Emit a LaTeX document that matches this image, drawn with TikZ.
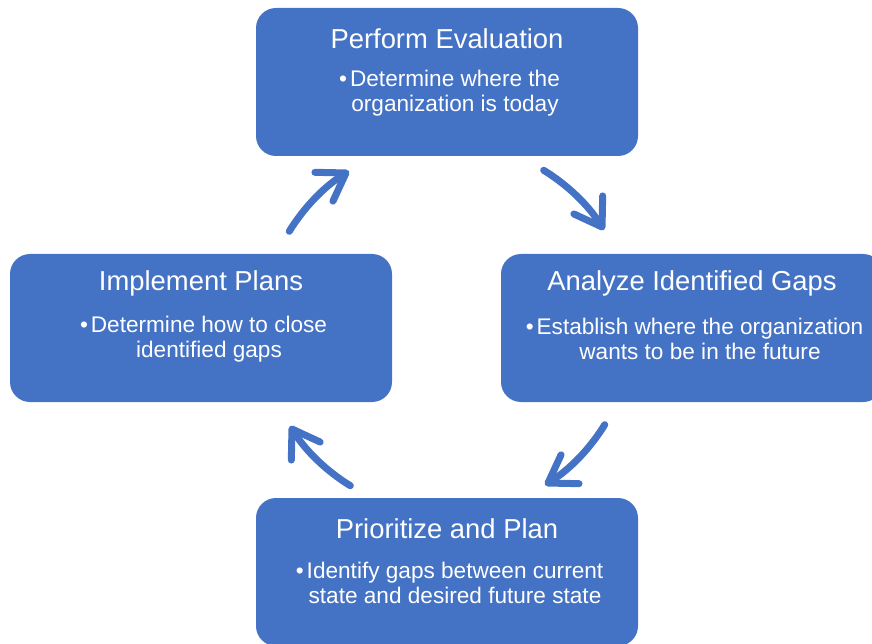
\documentclass[tikz,border=0pt]{standalone}
\usepackage{fontspec}
\setmainfont{Liberation Sans}
\usetikzlibrary{arrows.meta}
\definecolor{cycblue}{HTML}{4472C4}

\begin{document}
\begin{tikzpicture}[x=1pt,y=1pt,>={Straight Barb[round,length=26pt,width=34pt]}, line join=round, line cap=round,
  box/.style={fill=cycblue, rounded corners=20pt, minimum width=382pt, minimum height=148pt, inner sep=0pt},
  head/.style={text=white, inner sep=0pt, font=\fontsize{27.4}{30}\selectfont},
  item/.style={text=white, inner sep=0pt, align=center, font=\fontsize{22.6}{25}\selectfont},
  cyc/.style={->, draw=cycblue, line width=7pt}]
        \useasboundingbox (0,0) rectangle (872,-644);
        \clip (0,0) rectangle (872,-644);
        \coordinate (hub) at (447,-328);
        % the four stages
        \node[box] (eval) at (447,-82) {};
        \node[box] (impl) at (201,-328) {};
        \node[box] (gaps) at (692,-328) {};
        \node[box] (plan) at (447,-572) {};
        \node[head] (evalT) at ([yshift=-31]eval.north) {Perform Evaluation};
        \node[head] (implT) at ([yshift=-30]impl.north) {Implement Plans};
        \node[head] (gapsT) at ([yshift=-30]gaps.north) {Analyze Identified Gaps};
        \node[head] (planT) at ([yshift=-31]plan.north) {Prioritize and Plan};
        \node[item] (evalB) at ([xshift=8,yshift=-85]eval.north) {\llap{\textbullet\hspace{3pt}}Determine where the\\organization is today};
        \node[item] (implB) at ([xshift=8,yshift=-85]impl.north) {\llap{\textbullet\hspace{3pt}}Determine how to close\\identified gaps};
        \node[item] (gapsB) at ([xshift=8,yshift=-85]gaps.north) {\llap{\textbullet\hspace{3pt}}Establish where the organization\\wants to be in the future};
        \node[item] (planB) at ([xshift=8,yshift=-85]plan.north) {\llap{\textbullet\hspace{3pt}}Identify gaps between current\\state and desired future state};
        % curved arrows round the cycle
        \foreach \a in {58.5,-31.5,-121.5,148.5}
          \draw[cyc] ([shift={(\a:185pt)}]hub) arc[start angle=\a, end angle=\a-26.5, radius=185pt];
\end{tikzpicture}
\end{document}
